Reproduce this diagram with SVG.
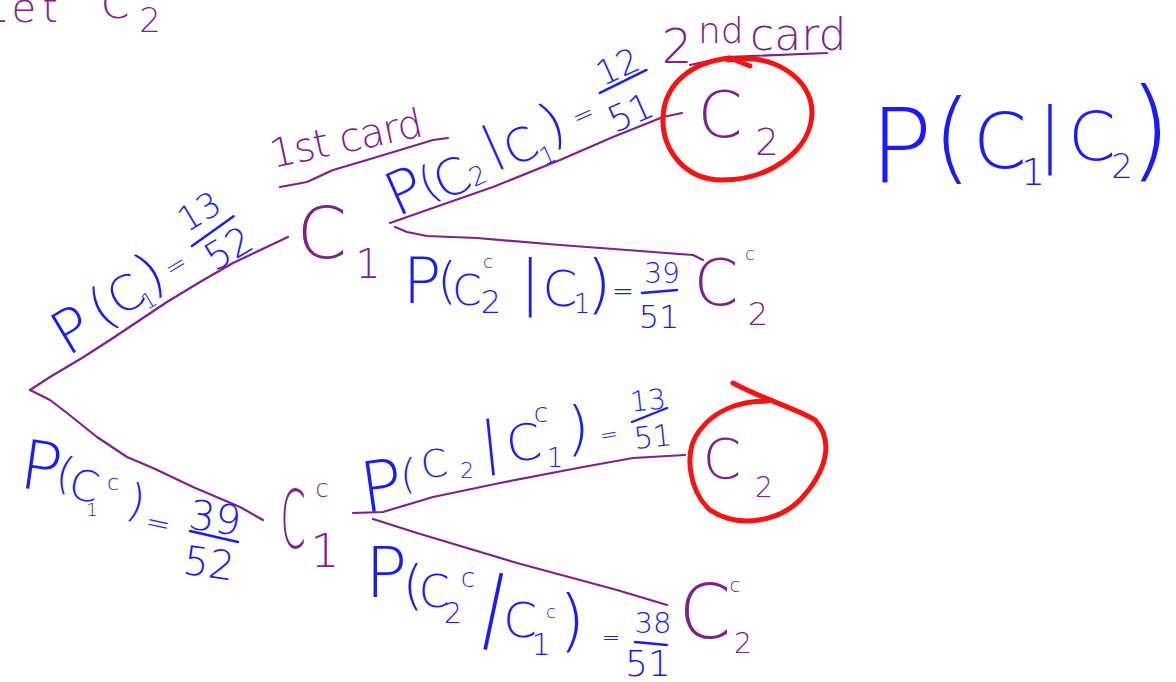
<svg xmlns="http://www.w3.org/2000/svg" width="1176" height="682" viewBox="0 0 1176 682">
<style>
text{font-family:"DejaVu Sans","Liberation Sans",sans-serif;font-weight:200;text-anchor:middle}
.p{fill:#80208c}
.b{fill:#1a1aff}
.s{text-anchor:start}
.ln{fill:none;stroke:#80208c;stroke-width:2.2;stroke-linecap:round;stroke-linejoin:round}
.bar{stroke:#1a1aff;stroke-width:2.4;stroke-linecap:round}
.ring{fill:none;stroke:#ff1010;stroke-width:5;stroke-linecap:round;stroke-linejoin:round}
</style>
<rect width="1176" height="682" fill="#fff"/>

<g id="header">
<text class="p s" x="-16" y="22" font-size="40" letter-spacing="6">Let</text>
<text class="p" x="115" y="18" font-size="41">C</text>
<text class="p" x="150" y="32" font-size="34">2</text>
</g>

<g id="connectors">
<path class="ln" d="M30,390 L50,377 L82,358 L110,340 L167,302 L200,282 L233,263 L288,237"/>
<path class="ln" d="M30,390 L50,400 L67,413 L97,437 L127,457 L153,468 L193,487 L240,507 L263,520"/>
<path class="ln" d="M390,223 L427,210 L493,187 L560,160 L613,137 L643,125 L663,117 L682,113"/>
<path class="ln" d="M395,227 L407,232 L427,236 L477,238 L560,245 L627,250 L693,255 L703,260"/>
<path class="ln" d="M353,513 L383,512 L433,497 L500,483 L583,467 L633,458 L685,455"/>
<path class="ln" d="M373,519 L417,533 L517,563 L617,590 L667,605"/>
</g>

<g id="label-first-card">
<text class="p s" transform="translate(273,168) rotate(-12)" font-size="40" letter-spacing="-1">1st card</text>
<path class="ln" d="M280,187 L307,182 L333,170 L367,160 L433,140 L448,138"/>
</g>

<g id="label-second-card">
<text class="p" x="677" y="63" font-size="48">2</text>
<text class="p s" x="698" y="43" font-size="36">nd</text>
<text class="p s" x="750" y="50" font-size="44">card</text>
<path class="ln" d="M690,65 L727,57 L827,53"/>
</g>

<g id="node-C1">
<text class="p" x="322" y="258" font-size="72">C</text>
<text class="p" x="368" y="278" font-size="40">1</text>
</g>

<g id="node-C1c">
<text class="p" transform="translate(293,548) scale(0.45,1)" font-size="80">C</text>
<text class="p" x="322" y="497" font-size="24">c</text>
<text class="p" x="325" y="567" font-size="46">1</text>
</g>

<g id="node-C2-top">
<path class="ring" d="M728,60 C775,52 812,80 812,112 C812,150 770,180 722,180 C685,180 662,150 663,118 C664,85 690,62 730,58 L750,66"/>
<text class="p" x="720" y="137" font-size="64">C</text>
<text class="p" x="767" y="155" font-size="37">2</text>
</g>

<g id="node-C2c-top">
<text class="p" x="716" y="305" font-size="64">C</text>
<text class="p" x="750" y="260" font-size="18">c</text>
<text class="p" x="758" y="325" font-size="32">2</text>
</g>

<g id="node-C2-bottom">
<path class="ring" d="M733,383 C760,398 800,410 815,420 C835,442 826,472 800,500 C780,520 740,530 710,510 C690,492 682,452 700,430 C715,410 740,401 768,401"/>
<text class="p" x="722" y="478" font-size="55">C</text>
<text class="p" x="764" y="497" font-size="28">2</text>
</g>

<g id="node-C2c-bottom">
<text class="p" x="705" y="638" font-size="75">C</text>
<text class="p" x="735" y="592" font-size="20">c</text>
<text class="p" x="743" y="653" font-size="28">2</text>
</g>

<g id="label-P-C1" transform="translate(62,352) rotate(-31)">
<text class="b" x="20" y="7" font-size="60">P</text>
<text class="b" x="57" y="1" font-size="54">(</text>
<text class="b" x="84" y="0" font-size="48">C</text>
<text class="b" x="101" y="8" font-size="22">1</text>
<text class="b" x="116" y="-3" font-size="56">)</text>
<text class="b" x="142" y="-7" font-size="26">=</text>
<text class="b" x="190" y="-38" font-size="34">13</text>
<line class="bar" x1="166" y1="-24" x2="217" y2="-28"/>
<text class="b" x="196" y="10" font-size="38">52</text>
</g>

<g id="label-P-C2-given-C1" transform="translate(395,218) rotate(-24)">
<text class="b" x="20" y="0" font-size="60">P</text>
<text class="b" x="45" y="-3" font-size="45">(</text>
<text class="b" x="68" y="4" font-size="50">C</text>
<text class="b" x="93" y="4" font-size="26">2</text>
<text class="b" x="118" y="-12" font-size="48">|</text>
<text class="b" x="144" y="1" font-size="46">C</text>
<text class="b" x="165" y="13" font-size="24">1</text>
<text class="b" x="182" y="-3" font-size="56">)</text>
<text class="b" x="214" y="-9" font-size="26">=</text>
<text class="b" x="265" y="-36" font-size="34">12</text>
<line class="bar" x1="238" y1="-31" x2="290" y2="-33"/>
<text class="b" x="258" y="12" font-size="36">51</text>
</g>

<g id="label-P-C2c-given-C1">
<text class="b" x="422" y="303" font-size="64">P</text>
<text class="b" x="447" y="298" font-size="50">(</text>
<text class="b" x="467" y="305" font-size="42">C</text>
<text class="b" x="488" y="268" font-size="18">c</text>
<text class="b" x="491" y="313" font-size="32">2</text>
<text class="b" x="530" y="303" font-size="60">|</text>
<text class="b" x="560" y="306" font-size="50">C</text>
<text class="b" x="582" y="313" font-size="26">1</text>
<text class="b" x="599" y="306" font-size="64">)</text>
<text class="b" x="623" y="300" font-size="26">=</text>
<text class="b" x="662" y="283" font-size="28">39</text>
<line class="bar" x1="642" y1="293" x2="677" y2="290"/>
<text class="b" x="659" y="328" font-size="32">51</text>
</g>

<g id="label-P-C1c">
<text class="b" x="38" y="490" font-size="68" transform="rotate(8 38 490)">P</text>
<text class="b" x="62" y="488" font-size="44" transform="rotate(12 62 488)">(</text>
<text class="b" x="81" y="500" font-size="42" transform="rotate(12 81 500)">C</text>
<text class="b" x="92" y="516" font-size="18">1</text>
<text class="b" x="113" y="490" font-size="22">c</text>
<text class="b" x="133" y="516" font-size="45" transform="rotate(12 133 516)">)</text>
<text class="b" x="156" y="533" font-size="30" transform="rotate(12 156 533)">=</text>
<text class="b" x="213" y="532" font-size="41" transform="rotate(8 213 532)">39</text>
<line class="bar" x1="190" y1="531" x2="238" y2="542"/>
<text class="b" x="207" y="577" font-size="40" transform="rotate(8 207 577)">52</text>
</g>

<g id="label-P-C2-given-C1c">
<text class="b" x="385" y="510" font-size="70" transform="rotate(-8 385 510)">P</text>
<text class="b" x="408" y="488" font-size="40">(</text>
<text class="b" x="436" y="477" font-size="38" transform="rotate(-8 436 477)">C</text>
<text class="b" x="467" y="478" font-size="22">2</text>
<text class="b" x="492" y="462" font-size="57" transform="rotate(-6 492 462)">|</text>
<text class="b" x="526" y="460" font-size="50" transform="rotate(-8 526 460)">C</text>
<text class="b" x="541" y="422" font-size="26">c</text>
<text class="b" x="555" y="467" font-size="26">1</text>
<text class="b" x="578" y="449" font-size="58">)</text>
<text class="b" x="610" y="442" font-size="22" transform="rotate(-10 610 442)">=</text>
<text class="b" x="649" y="410" font-size="28" transform="rotate(-6 649 410)">13</text>
<line class="bar" x1="632" y1="422" x2="667" y2="408"/>
<text class="b" x="654" y="447" font-size="30" transform="rotate(-6 654 447)">51</text>
</g>

<g id="label-P-C2c-given-C1c">
<text class="b" x="386" y="597" font-size="70">P</text>
<text class="b" x="413" y="604" font-size="54">(</text>
<text class="b" x="434" y="607" font-size="44">C</text>
<text class="b" x="453" y="623" font-size="28">2</text>
<text class="b" x="468" y="587" font-size="26">c</text>
<text class="b" x="493" y="632" font-size="78" transform="rotate(12 493 612)">|</text>
<text class="b" x="520" y="637" font-size="48">C</text>
<text class="b" x="551" y="618" font-size="18">c</text>
<text class="b" x="541" y="655" font-size="30">1</text>
<text class="b" x="572" y="644" font-size="67">)</text>
<text class="b" x="611" y="645" font-size="22">=</text>
<text class="b" x="653" y="633" font-size="29">38</text>
<line class="bar" x1="635" y1="642" x2="667" y2="645"/>
<text class="b" x="648" y="676" font-size="36">51</text>
</g>

<g id="label-P-C1-given-C2">
<text class="b" x="901" y="182" font-size="104">P</text>
<text class="b" x="952" y="171" font-size="100">(</text>
<text class="b" x="1000" y="168" font-size="77">C</text>
<text class="b" x="1033" y="185" font-size="38">1</text>
<text class="b" x="1050" y="158" font-size="72">|</text>
<text class="b" x="1092" y="160" font-size="68">C</text>
<text class="b" x="1122" y="178" font-size="34">2</text>
<text class="b" x="1150" y="167" font-size="110">)</text>
</g>
</svg>
